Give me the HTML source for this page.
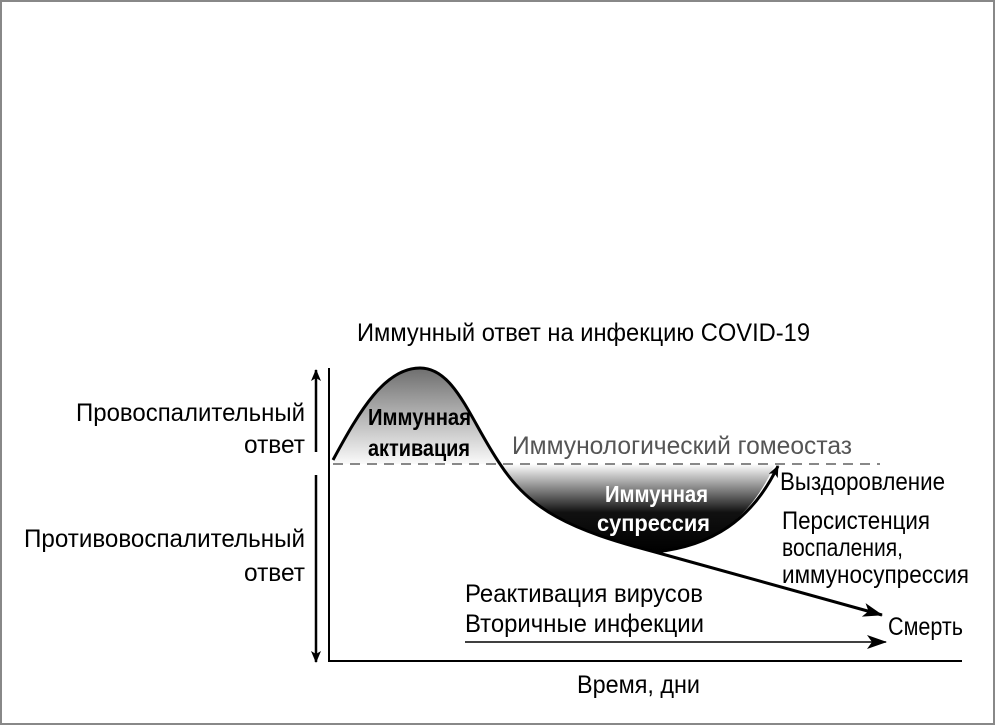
<!DOCTYPE html>
<html><head><meta charset="utf-8"><style>
html,body{margin:0;padding:0;background:#fff}
svg{display:block}
text{font-family:"Liberation Sans",sans-serif;}
</style></head><body>
<svg width="995" height="725" viewBox="0 0 995 725" xmlns="http://www.w3.org/2000/svg">
<defs>
<linearGradient id="ga" x1="0" y1="0" x2="0" y2="1" gradientUnits="objectBoundingBox">
<stop offset="0" stop-color="#6e6e6e"/><stop offset="1" stop-color="#fafafa"/></linearGradient>
<linearGradient id="gs" x1="0" y1="0" x2="0" y2="1">
<stop offset="0" stop-color="#fff"/><stop offset="0.55" stop-color="#111"/><stop offset="1" stop-color="#000"/></linearGradient>
<marker id="ah" markerWidth="12" markerHeight="10" refX="11" refY="5" orient="auto" markerUnits="userSpaceOnUse">
<path d="M0,0 L12,5 L0,10 L3,5 Z" fill="#000"/></marker>
<marker id="ah2" markerWidth="20" markerHeight="14" refX="19" refY="7" orient="auto" markerUnits="userSpaceOnUse">
<path d="M0,0 L20,7 L0,14 L5,7 Z" fill="#000"/></marker>
</defs>
<rect x="1" y="1" width="993" height="723" fill="#fff" stroke="#888" stroke-width="2"/>
<g font-size="25">
<text x="357" y="341" textLength="453" lengthAdjust="spacingAndGlyphs">Иммунный ответ на инфекцию COVID-19</text>
<text x="76" y="421" textLength="229" lengthAdjust="spacingAndGlyphs">Провоспалительный</text>
<text x="244" y="453" textLength="61" lengthAdjust="spacingAndGlyphs">ответ</text>
<text x="24" y="547" textLength="281" lengthAdjust="spacingAndGlyphs">Противовоспалительный</text>
<text x="244" y="581" textLength="61" lengthAdjust="spacingAndGlyphs">ответ</text>
<text x="512" y="454" fill="#555" textLength="340" lengthAdjust="spacingAndGlyphs">Иммунологический гомеостаз</text>
<text x="780" y="490" textLength="165" lengthAdjust="spacingAndGlyphs">Выздоровление</text>
<text x="782" y="529" textLength="148" lengthAdjust="spacingAndGlyphs">Персистенция</text>
<text x="782" y="556" textLength="121" lengthAdjust="spacingAndGlyphs">воспаления,</text>
<text x="782" y="583" textLength="187" lengthAdjust="spacingAndGlyphs">иммуносупрессия</text>
<text x="888" y="635" textLength="75" lengthAdjust="spacingAndGlyphs">Смерть</text>
<text x="465" y="602" textLength="238" lengthAdjust="spacingAndGlyphs">Реактивация вирусов</text>
<text x="465" y="632" textLength="239" lengthAdjust="spacingAndGlyphs">Вторичные инфекции</text>
<text x="577" y="693" textLength="123" lengthAdjust="spacingAndGlyphs">Время, дни</text>
</g>
<line x1="316" y1="452" x2="316" y2="370" stroke="#000" stroke-width="2.5" marker-end="url(#ah)"/>
<line x1="316" y1="475" x2="316" y2="662" stroke="#000" stroke-width="2.5" marker-end="url(#ah)"/>
<line x1="329" y1="368" x2="329" y2="662" stroke="#000" stroke-width="2"/>
<line x1="329" y1="661" x2="962" y2="661" stroke="#000" stroke-width="2"/>
<path d="M333,464 C360,410 385,368 420,368 C455,368 470,420 500,464 Z" fill="url(#ga)"/>
<path d="M500,464 C530,510 570,530 655,552 C712,546 750,520 775,464 Z" fill="url(#gs)"/>
<line x1="333" y1="464" x2="880" y2="464" stroke="#888" stroke-width="2" stroke-dasharray="10,7"/>
<path d="M333,460 C360,410 385,368 420,368 C455,368 470,420 500,464 C530,510 570,530 655,552 L882,615" fill="none" stroke="#000" stroke-width="3" marker-end="url(#ah2)"/>
<path d="M655,552 C712,546 752,520 778,466" fill="none" stroke="#000" stroke-width="3" marker-end="url(#ah)"/>
<line x1="465" y1="642" x2="886" y2="642" stroke="#000" stroke-width="1.5" marker-end="url(#ah2)"/>
<g font-size="23" font-weight="bold">
<text x="368" y="425" textLength="103" lengthAdjust="spacingAndGlyphs">Иммунная</text>
<text x="368" y="456" textLength="102" lengthAdjust="spacingAndGlyphs">активация</text>
<text x="605" y="502" fill="#fff" textLength="103" lengthAdjust="spacingAndGlyphs">Иммунная</text>
<text x="597" y="531" fill="#fff" textLength="113" lengthAdjust="spacingAndGlyphs">супрессия</text>
</g>
</svg>
</body></html>
